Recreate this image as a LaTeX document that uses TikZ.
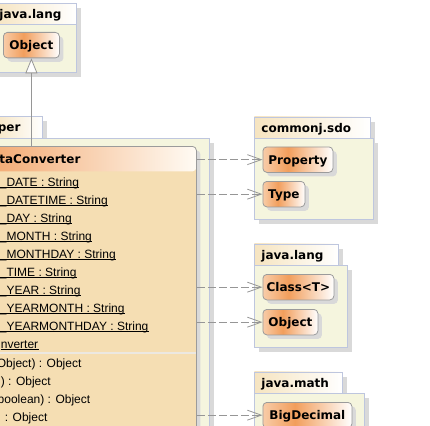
\documentclass[tikz,border=0pt]{standalone}
\usepackage{fontspec}
\setmainfont{Liberation Sans}
\newfontfamily\hdfont{DejaVu Sans}
\usetikzlibrary{arrows.meta}

\definecolor{pkgline}{RGB}{190,198,222}
\definecolor{pkgfill}{RGB}{245,245,222}
\definecolor{tabL}{RGB}{246,228,192}
\definecolor{shadowgray}{RGB}{217,217,217}
\definecolor{clsline}{RGB}{155,155,155}
\definecolor{clsA}{RGB}{248,204,168}
\definecolor{clsB}{RGB}{242,158,92}
\definecolor{wheatfill}{RGB}{245,222,179}
\definecolor{hdL}{RGB}{242,166,108}
\definecolor{hdR}{RGB}{255,251,244}
\definecolor{sepgray}{RGB}{236,232,225}
\definecolor{linkgray}{RGB}{150,150,150}

\pgfdeclarehorizontalshading{clsshade}{100bp}{color(0bp)=(clsA); color(25bp)=(clsA); color(43bp)=(clsB); color(75bp)=(white); color(100bp)=(white)}

\newcommand{\hdfnt}{\hdfont\bfseries\fontsize{12}{14}\selectfont}
\newcommand{\attrfnt}{\fontsize{12}{14}\selectfont}

\begin{document}
\begin{tikzpicture}[x=1pt, y=-1pt, line width=0.8pt,
    dropsh/.style={preaction={fill=shadowgray, draw=none, transform canvas={xshift=#1, yshift=-#1}}},
    dropsh/.default=4pt,
    pkgtab/.style={draw=pkgline, left color=tabL, right color=white, dropsh=5pt, anchor=north west,
        font=\hdfnt, inner xsep=7pt, inner ysep=0pt, minimum height=21.5pt,
        text height=9pt, text depth=0pt, align=left},
    pkgbody/.style={draw=pkgline, fill=pkgfill, dropsh=5pt, anchor=north west, inner sep=0pt},
    cls/.style={draw=clsline, shading=clsshade, rounded corners=4pt, dropsh, anchor=north west,
        font=\hdfnt, minimum height=25.5pt, inner sep=0pt, text height=9pt, text depth=0pt},
    convbox/.style={draw=clsline, fill=wheatfill, rounded corners=4pt, dropsh, anchor=north west, inner sep=0pt,
        path picture={\shade[left color=hdL, right color=hdR] (path picture bounding box.north west)
            rectangle ([yshift=-25pt]path picture bounding box.north east);}},
    attr/.style={anchor=base west, inner sep=0pt, font=\attrfnt},
    ulline/.style={draw=black, line width=0.8pt},
    dep/.style={draw=linkgray, dash pattern=on 8pt off 3pt, -{Straight Barb[length=14pt,width=10pt]}},
    gen/.style={draw=linkgray, -{Triangle[length=15pt,width=12pt,fill=white]}}
]
    \useasboundingbox (0,0) rectangle (430,425);
    \clip (0,0) rectangle (430,425);
    \fill[white] (0,0) rectangle (430,425);

    % java.lang (top)
    \node[pkgtab, minimum width=84pt, text width=70pt] (langtoptab) at (-8,3) {java.lang};
    \node[pkgbody, minimum width=84pt, minimum height=48pt] (langtopbody) at (-8,24) {};
    \node[cls, minimum width=56pt] (langtopobj) at (3,32) {Object};

    % serializer package
    \node[pkgtab, minimum width=51.6pt, text width=37.6pt] (sertab) at (-9.6,116) {per};
    \node[pkgbody, minimum width=229pt, minimum height=310pt] (serbody) at (-20,137.5) {};

    % converter class
    \node[convbox, minimum width=216pt, minimum height=310pt] (conv) at (-20,146) {};
    \node[anchor=base west, inner sep=0pt, font=\hdfnt] (convname) at (-1,163.5) {taConverter};
    \foreach \a [count=\i from 0] in {\_DATE : String, \_DATETIME : String, \_DAY : String,
        \_MONTH : String, \_MONTHDAY : String, \_TIME : String, \_YEAR : String,
        \_YEARMONTH : String, \_YEARMONTHDAY : String}
    {
        \node[attr] (attr\i) at (-0.5,186+18*\i) {\a};
        \draw[ulline] ([yshift=-1.6pt]attr\i.base west) -- ([yshift=-1.6pt]attr\i.base east);
    }
    \node[attr] (attr9) at (0.5,348) {nverter};
    \draw[ulline] ([yshift=-1.6pt]attr9.base west) -- ([yshift=-1.6pt]attr9.base east);
    \draw[sepgray, line width=1.5pt] (-20,353) -- (195.5,353);
    \node[attr] (meth0) at (-3.5,367.5) {Object) : Object};
    \node[attr] (meth1) at (0.5,385.5) {) : Object};
    \node[attr] (meth2) at (-2.7,403.5) {boolean) : Object};
    \node[attr] (meth3) at (4.5,421.5) {: Object};

    % commonj.sdo
    \node[pkgtab, minimum width=116pt, text width=102pt] (sdotab) at (254,116.5) {commonj.sdo};
    \node[pkgbody, minimum width=119pt, minimum height=81pt] (sdobody) at (254,138) {};
    \node[cls, minimum width=70pt] (property) at (262.5,146.5) {Property};
    \node[cls, minimum width=42pt] (type) at (262.5,181) {Type};

    % java.lang
    \node[pkgtab, minimum width=84pt, text width=70pt] (langtab) at (254,243.5) {java.lang};
    \node[pkgbody, minimum width=93pt, minimum height=82pt] (langbody) at (254,265) {};
    \node[cls, minimum width=71pt] (classt) at (262.5,274) {Class<T>};
    \node[cls, minimum width=55pt] (object) at (262.5,309) {Object};

    % java.math
    \node[pkgtab, minimum width=88pt, text width=74pt] (mathtab) at (254,371.5) {java.math};
    \node[pkgbody, minimum width=110pt, minimum height=60pt] (mathbody) at (254,393) {};
    \node[cls, minimum width=89pt] (bigdec) at (262.5,402) {BigDecimal};

    % dependencies
    \draw[dep] (conv.east |- property.west) -- (property.west);
    \draw[dep] (conv.east |- type.west) -- (type.west);
    \draw[dep] (conv.east |- classt.west) -- (classt.west);
    \draw[dep] (conv.east |- object.west) -- (object.west);
    \draw[dep] (conv.east |- bigdec.west) -- (bigdec.west);

    % generalization
    \draw[gen] (conv.north -| langtopobj.south) -- (langtopobj.south);
\end{tikzpicture}
\end{document}
